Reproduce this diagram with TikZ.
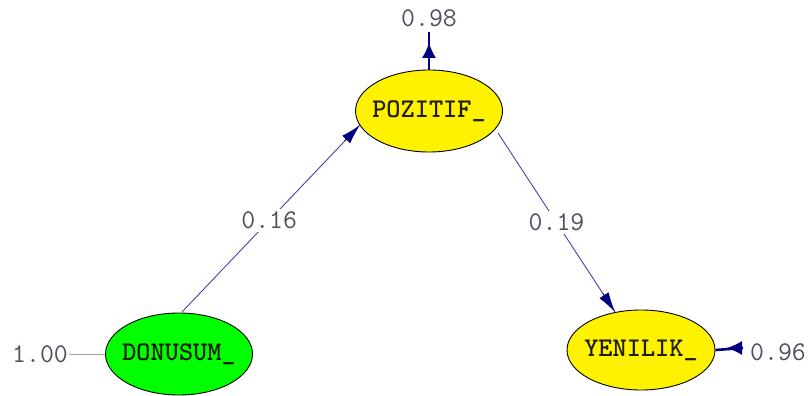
\documentclass[tikz,border=0pt]{standalone}
\usetikzlibrary{shapes.geometric,arrows.meta,calc}
\definecolor{pathblue}{RGB}{70,70,170}
\definecolor{errblue}{RGB}{0,0,128}
\definecolor{numgray}{RGB}{80,78,95}
\definecolor{nodetxt}{RGB}{30,30,10}
\begin{document}
\begin{tikzpicture}[x=1pt,y=-1pt,
  latent/.style={ellipse, draw=black, line width=0.9pt, minimum width=147pt, minimum height=82pt, inner sep=0pt,
    font=\ttfamily\bfseries\fontsize{27}{27}\selectfont, text=nodetxt},
  numlbl/.style={font=\ttfamily\fontsize{27}{27}\selectfont, text=numgray, inner sep=1pt},
  pathline/.style={draw=pathblue, line width=0.9pt},
  pathhead/.style={-{Latex[length=20pt,width=11pt]}, draw=errblue, fill=errblue, line width=0.9pt},
  errline/.style={draw=errblue, line width=2.6pt},
  errhead/.style={-{Latex[length=15pt,width=14pt]}, draw=errblue, fill=errblue, line width=1pt}
]
\useasboundingbox (0,0) rectangle (809,396);
\node[latent, fill=yellow] (P) at (429,111) {\makebox[0pt]{POZITIF\_}};
\node[latent, fill=green, minimum width=147pt] (D) at (179,354) {\makebox[0pt]{DONUSUM\_}};
\node[latent, fill=yellow, minimum width=148pt, minimum height=80pt] (Y) at (641,350) {\makebox[0pt]{YENILIK\_}};

\node[numlbl] (e98) at (429,18) {0.98};
\node[numlbl] (e100) at (40,354) {1.00};
\node[numlbl, anchor=west] (e96) at (749,352) {0.96};

% paths
\coordinate (dstart) at (182,312);
\coordinate (ptip) at (360,125);
\draw[pathline] (dstart) -- (ptip) node[pos=0.49, numlbl, fill=white, inner sep=3pt] (l16) {0.16};
\draw[pathhead] ($(ptip)!22pt!(dstart)$) -- (ptip);

\coordinate (pstart) at (498,133);
\coordinate (ytip) at (615,312);
\draw[pathline] (pstart) -- (ytip) node[pos=0.5, numlbl, fill=white, inner sep=3pt] (l19) {0.19};
\draw[pathhead] ($(ytip)!22pt!(pstart)$) -- (ytip);

% error terms
\coordinate (e98a) at (429,32);
\draw[errline] (e98a) -- (P.north);
\draw[errhead] (429,58) -- (429,43);

\coordinate (e96a) at (743,348);
\draw[errline] (Y.east) -- (e96a);
\draw[errhead] (743,348) -- (727,348);

\draw[draw=gray!70, line width=0.9pt] (e100.east) -- (D.west);
\end{tikzpicture}
\end{document}
